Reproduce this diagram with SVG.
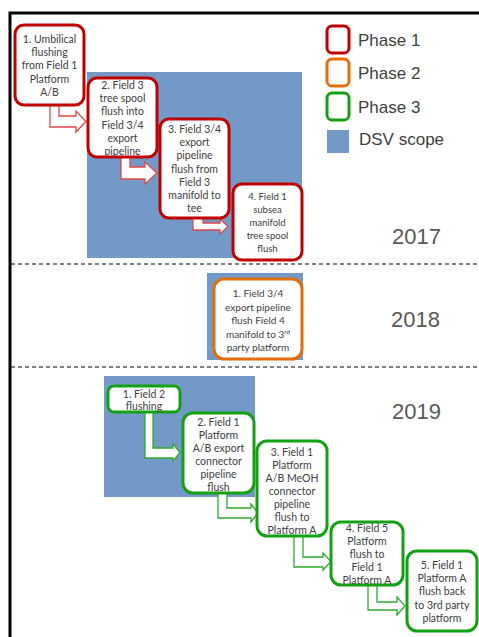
<svg xmlns="http://www.w3.org/2000/svg" width="479" height="637" viewBox="0 0 479 637">
<style>
.dsv{fill:#7399C6}
.n{fill:#fff;stroke-width:3}
.p1{stroke:#C00000}
.p2{stroke:#E46C0A}
.p3{stroke:#13A013}
.t{font-family:Lato,"Open Sans","Liberation Sans",sans-serif;font-size:10.5px;fill:#404040;text-anchor:middle}
.a1{fill:#fff;stroke:#E04848;stroke-width:1.3}
.a3{fill:#fff;stroke:#2EAA2E;stroke-width:1.3}
.lg{font-family:"Liberation Sans",Arial,sans-serif;font-size:17px;fill:#404040}
.yr{font-family:"Liberation Sans",Arial,sans-serif;font-size:22px;fill:#595959}
.dash{stroke:#000;stroke-width:1;stroke-dasharray:4 3;fill:none}
</style>
<rect width="479" height="637" fill="#fff"/>
<path d="M10,637 V13 H479" fill="none" stroke="#000" stroke-width="3"/>
<line class="dash" x1="11" y1="264" x2="479" y2="264"/>
<line class="dash" x1="11" y1="367" x2="479" y2="367"/>

<g id="dsv-areas">
<rect class="dsv" x="87" y="72" width="215" height="186"/>
<rect class="dsv" x="207" y="273" width="96" height="87"/>
<rect class="dsv" x="104" y="376" width="151" height="121"/>
</g>

<g id="legend">
<rect class="n p1" x="327" y="26" width="22" height="27" rx="5"/>
<rect class="n p2" x="327" y="59" width="22" height="27" rx="5"/>
<rect class="n p3" x="327" y="93" width="22" height="27" rx="5"/>
<rect class="dsv" x="327" y="130" width="22" height="23"/>
<text class="lg" x="358" y="46">Phase 1</text>
<text class="lg" x="358" y="79">Phase 2</text>
<text class="lg" x="358" y="113">Phase 3</text>
<text class="lg" x="359" y="145">DSV scope</text>
</g>

<g id="years">
<text class="yr" x="392" y="244">2017</text>
<text class="yr" x="391" y="327">2018</text>
<text class="yr" x="392" y="419">2019</text>
</g>

<g id="connectors">
<path class="a1" d="M50,105 V127 H76 V132 L86,121.5 L76,111 V116 H59 V105"/>
<path class="a1" d="M121,157 V179 H145 V184 L157,173 L145,162 V167 H130 V157"/>
<path class="a1" d="M193,218 V230 H220 V234 L228,226.5 L220,219 V223 H203 V218"/>
<path class="a3" d="M145,412 V458 H173 V461 L180,452.5 L173,444 V448 H153 V412"/>
<path class="a3" d="M218,494 V518 H251 V522 L258,513 L251,504 V508 H227 V494"/>
<path class="a3" d="M294,537 V567 H323 V570 L331,561.5 L323,553 V557 H303 V537"/>
<path class="a3" d="M368,585 V610 H397 V615 L405,606 L397,597 V602 H377 V585"/>
</g>

<g id="p1-node1">
<rect class="n p1" x="15" y="25" width="69" height="80" rx="9"/>
<text class="t"><tspan x="49.5" y="43">1. Umbilical</tspan><tspan x="49.5" dy="13.2">flushing</tspan><tspan x="49.5" dy="13.2">from Field 1</tspan><tspan x="49.5" dy="13.2">Platform</tspan><tspan x="49.5" dy="13.2">A/B</tspan></text>
</g>
<g id="p1-node2">
<rect class="n p1" x="88" y="78" width="69" height="79" rx="9"/>
<text class="t"><tspan x="122.5" y="89">2. Field 3</tspan><tspan x="122.5" dy="13.2">tree spool</tspan><tspan x="122.5" dy="13.2">flush into</tspan><tspan x="122.5" dy="13.2">Field 3/4</tspan><tspan x="122.5" dy="13.2">export</tspan><tspan x="122.5" dy="13.2">pipeline</tspan></text>
</g>
<g id="p1-node3">
<rect class="n p1" x="160" y="119" width="69" height="99" rx="9"/>
<text class="t"><tspan x="194.5" y="133">3. Field 3/4</tspan><tspan x="194.5" dy="13.2">export</tspan><tspan x="194.5" dy="13.2">pipeline</tspan><tspan x="194.5" dy="13.2">flush from</tspan><tspan x="194.5" dy="13.2">Field 3</tspan><tspan x="194.5" dy="13.2">manifold to</tspan><tspan x="194.5" dy="13.2">tee</tspan></text>
</g>
<g id="p1-node4">
<rect class="n p1" x="233" y="184" width="69" height="76" rx="9"/>
<text class="t" style="font-size:9.5px"><tspan x="267.5" y="200">4. Field 1</tspan><tspan x="267.5" dy="13">subsea</tspan><tspan x="267.5" dy="13">manifold</tspan><tspan x="267.5" dy="13">tree spool</tspan><tspan x="267.5" dy="13">flush</tspan></text>
</g>

<g id="p2-node1">
<rect class="n p2" x="214" y="279" width="88" height="80" rx="10"/>
<text class="t" style="font-size:10px"><tspan x="258" y="297">1. Field 3/4</tspan><tspan x="258" dy="13.5">export pipeline</tspan><tspan x="258" dy="13.5">flush Field 4</tspan><tspan x="258" dy="13.5">manifold to 3<tspan dy="-4" style="font-size:6.5px">rd</tspan></tspan><tspan x="258" dy="17.5">party platform</tspan></text>
</g>

<g id="p3-node1">
<rect class="n p3" x="108" y="386" width="72" height="26" rx="6"/>
<text class="t"><tspan x="144" y="398">1. Field 2</tspan><tspan x="144" dy="12">flushing</tspan></text>
</g>
<g id="p3-node2">
<rect class="n p3" x="183" y="413" width="71" height="80" rx="10"/>
<text class="t"><tspan x="218.5" y="426">2. Field 1</tspan><tspan x="218.5" dy="13">Platform</tspan><tspan x="218.5" dy="13">A/B export</tspan><tspan x="218.5" dy="13">connector</tspan><tspan x="218.5" dy="13">pipeline</tspan><tspan x="218.5" dy="13">flush</tspan></text>
</g>
<g id="p3-node3">
<rect class="n p3" x="257" y="441" width="70" height="95" rx="10"/>
<text class="t"><tspan x="292" y="456">3. Field 1</tspan><tspan x="292" dy="13">Platform</tspan><tspan x="292" dy="13">A/B MeOH</tspan><tspan x="292" dy="13">connector</tspan><tspan x="292" dy="13">pipeline</tspan><tspan x="292" dy="13">flush to</tspan><tspan x="292" dy="13">Platform A</tspan></text>
</g>
<g id="p3-node4">
<rect class="n p3" x="331" y="522" width="72" height="63" rx="10"/>
<text class="t"><tspan x="367" y="532">4. Field 5</tspan><tspan x="367" dy="13">Platform</tspan><tspan x="367" dy="13">flush to</tspan><tspan x="367" dy="13">Field 1</tspan><tspan x="367" dy="13">Platform A</tspan></text>
</g>
<g id="p3-node5">
<rect class="n p3" x="407" y="551" width="70" height="80" rx="10"/>
<text class="t"><tspan x="442" y="569">5. Field 1</tspan><tspan x="442" dy="13.2">Platform A</tspan><tspan x="442" dy="13.2">flush back</tspan><tspan x="442" dy="13.2">to 3rd party</tspan><tspan x="442" dy="13.2">platform</tspan></text>
</g>
</svg>
